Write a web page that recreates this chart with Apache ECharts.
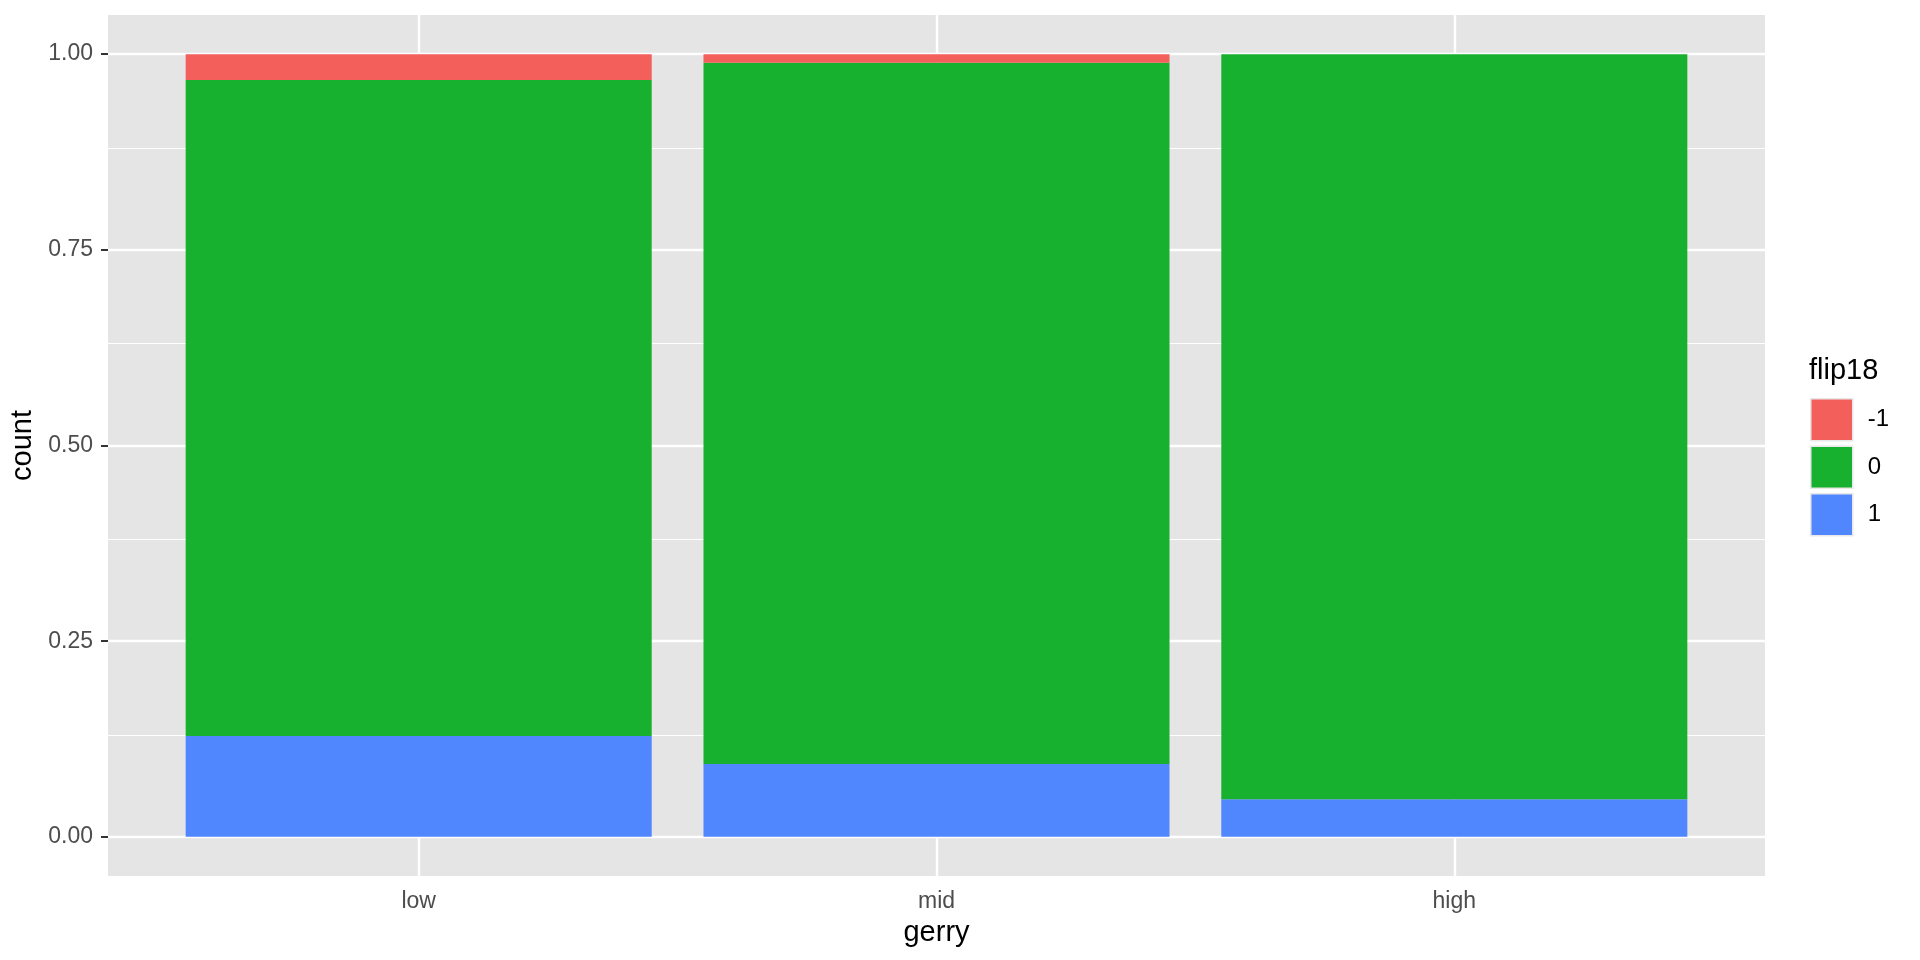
<!DOCTYPE html>
<html>
<head>
<meta charset="utf-8">
<script src="https://cdn.jsdelivr.net/npm/echarts@6/dist/echarts.min.js"></script>
<style>
    html, body { margin: 0; padding: 0; background: #fff; }
    #chart { width: 1920px; height: 960px; }
</style>
</head>
<body>
<div id="chart"></div>
<script>
// categories and stacked proportions
const categories = ['low', 'mid', 'high']
const flipNeg = [0.033, 0.011, 0.0]    // -1
const flipZero = [0.838, 0.896, 0.952] // 0
const flipPos = [0.129, 0.093, 0.048]  // 1
const yTicks = [0, 0.25, 0.5, 0.75, 1]
const yMinor = [0.125, 0.375, 0.625, 0.875]
const legendNames = ['-1', '0', '1']

const colors = { '-1': '#F35F5B', '0': '#18B12F', '1': '#5087FF' }
const panelBg = '#E5E5E5'
const font = 'Liberation Sans, Arial, Helvetica, sans-serif'

// panel (outer grid) and the discrete range 0.5..3.5 inside it (ggplot adds 0.6 each side)
const panel = { left: 108, right: 155, top: 15, bottom: 84 }
const unit = (1920 - panel.left - panel.right) / 3.2
const inner = { left: panel.left + unit * 0.1, right: panel.right + unit * 0.1, top: panel.top, bottom: panel.bottom }
const yMin = -0.05, yMax = 1.05

const barBase = {
    type: 'bar',
    stack: 'total',
    barWidth: '90%',
    xAxisIndex: 1,
    yAxisIndex: 1,
    z: 3,
    silent: true
}

const gridLines = [
    ...yMinor.map(v => ({ yAxis: v, lineStyle: { width: 1.2 } })),
    ...yTicks.map(v => ({ yAxis: v, lineStyle: { width: 2.4 } })),
    ...categories.map((c, i) => ({ xAxis: i + 1, lineStyle: { width: 2.4 } }))
]

const hiddenAxis = {
    axisLine: { show: false },
    axisTick: { show: false },
    axisLabel: { show: false },
    splitLine: { show: false }
}

const myChart = echarts.init(document.getElementById('chart'), null, { renderer: 'canvas' })
myChart.setOption({
    animation: false,
    backgroundColor: '#fff',
    textStyle: { fontFamily: font },
    grid: [
        { ...panel, show: true, backgroundColor: panelBg, borderWidth: 0 },
        { ...inner, show: false }
    ],
    title: {
        text: 'flip18',
        left: 1809,
        top: 356,
        padding: 0,
        textStyle: { fontFamily: font, fontSize: 29, fontWeight: 'normal', color: '#000' }
    },
    legend: {
        data: legendNames,
        orient: 'vertical',
        left: 1810,
        top: 398,
        padding: 0,
        itemWidth: 42,
        itemHeight: 42,
        itemGap: 4,
        icon: 'rect',
        selectedMode: false,
        itemStyle: { borderColor: '#E8E8E8', borderWidth: 1.5 },
        textStyle: { fontFamily: font, fontSize: 24, color: '#000', padding: [0, 0, 0, 10] }
    },
    xAxis: [
        { type: 'value', gridIndex: 0, min: 0.4, max: 3.6, ...hiddenAxis },
        {
            type: 'category',
            gridIndex: 1,
            data: categories,
            name: 'gerry',
            nameLocation: 'middle',
            nameGap: 42,
            nameTextStyle: { fontFamily: font, fontSize: 29, color: '#000' },
            axisLine: { show: false },
            splitLine: { show: false },
            axisTick: { show: true, length: 7, alignWithLabel: true, lineStyle: { color: '#333', width: 2 } },
            axisLabel: { margin: 14, fontFamily: font, fontSize: 23, color: '#4D4D4D' }
        }
    ],
    yAxis: [
        {
            type: 'value',
            gridIndex: 0,
            min: yMin,
            max: yMax,
            name: 'count',
            nameLocation: 'middle',
            nameGap: 52,
            nameRotate: 90,
            nameTextStyle: { fontFamily: font, fontSize: 29, color: '#000' },
            axisLine: { show: false },
            splitLine: { show: false },
            axisTick: { show: true, length: 7, customValues: yTicks, lineStyle: { color: '#333', width: 2 } },
            axisLabel: {
                customValues: yTicks,
                formatter: v => v.toFixed(2),
                margin: 15,
                fontFamily: font,
                fontSize: 23,
                color: '#4D4D4D'
            }
        },
        { type: 'value', gridIndex: 1, min: yMin, max: yMax, ...hiddenAxis }
    ],
    series: [
        {
            // panel grid lines
            name: 'grid',
            type: 'line',
            xAxisIndex: 0,
            yAxisIndex: 0,
            data: [],
            z: 1,
            silent: true,
            markLine: {
                silent: true,
                z: 1,
                symbol: 'none',
                label: { show: false },
                lineStyle: { color: '#fff', type: 'solid' },
                data: gridLines
            }
        },
        { ...barBase, name: '1', data: flipPos, itemStyle: { color: colors['1'] } },
        { ...barBase, name: '0', data: flipZero, itemStyle: { color: colors['0'] } },
        { ...barBase, name: '-1', data: flipNeg, itemStyle: { color: colors['-1'] } }
    ]
})
</script>
</body>
</html>
